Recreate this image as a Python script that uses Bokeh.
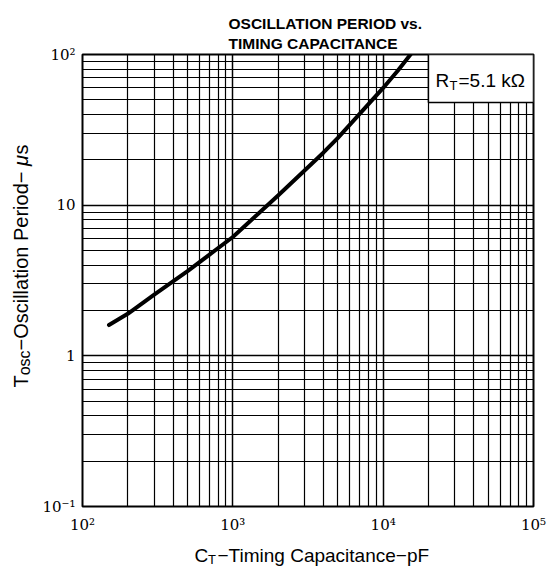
import math
from bokeh.plotting import figure
from bokeh.models import Label, BoxAnnotation, FixedTicker, Range1d
from bokeh.layouts import row, column
from bokeh.embed import file_html
from bokeh.resources import INLINE

# ---- data ----
cap_pf = [150, 200, 300, 400, 500, 700, 1000, 1500, 2000, 3000, 4000, 5000, 7000, 10000, 12500, 15200]
period_us = [1.6, 1.9, 2.55, 3.12, 3.65, 4.7, 6.15, 8.9, 11.6, 17, 22.3, 28, 40.5, 60, 78, 100]

x_major = [1e2, 1e3, 1e4, 1e5]
x_minor = [m * d for d in (1e2, 1e3, 1e4) for m in range(2, 10)]
y_major = [1e-1, 1, 10, 1e2]
y_minor = [m * d for d in (1e-1, 1, 10) for m in range(2, 10)]
x_tick_labels = {100: "10²", 1000: "10³", 10000: "10⁴", 100000: "10⁵"}
y_tick_labels = {0.1: "10⁻¹", 1: "1", 10: "10", 100: "10²"}

SANS = "Liberation Sans"
SERIF = "DejaVu Serif"

LEFT_W = 36          # width of the strip holding the y-axis title
BOTTOM_H = 36        # height of the strip holding the x-axis title

p = figure(width=513, height=536, x_axis_type="log", y_axis_type="log",
           x_range=Range1d(1e2, 1e5), y_range=Range1d(1e-1, 1e2),
           output_backend="svg", toolbar_location=None,
           min_border_left=46, min_border_right=16, min_border_top=54, min_border_bottom=30)
p.background_fill_color = "white"
p.border_fill_color = "white"
p.outline_line_color = "black"
p.outline_line_width = 2

for ax, maj, mnr, labels in ((p.xaxis, x_major, x_minor, x_tick_labels),
                             (p.yaxis, y_major, y_minor, y_tick_labels)):
    ax.ticker = FixedTicker(ticks=maj, minor_ticks=mnr)
    ax.major_label_overrides = labels
    ax.axis_line_color = None
    ax.major_tick_line_color = None
    ax.minor_tick_line_color = None
    ax.major_tick_out = 0
    ax.minor_tick_out = 0
    ax.major_label_text_font = SERIF
    ax.major_label_text_font_size = "15px"
    ax.major_label_text_color = "black"
p.xaxis.major_label_standoff = 9
p.yaxis.major_label_standoff = 7

for g in (p.xgrid, p.ygrid):
    g.grid_line_color = "black"
    g.grid_line_width = 1.5
    g.grid_line_alpha = 1
    g.minor_grid_line_color = "black"
    g.minor_grid_line_width = 1.2
    g.minor_grid_line_alpha = 1

p.line(cap_pf, period_us, line_color="black", line_width=4, line_cap="round", line_join="round")

# R_T box
p.add_layout(BoxAnnotation(left=2e4, right=1e5, bottom=48, top=100,
                           fill_color="white", fill_alpha=1,
                           line_color="black", line_width=1.5, line_alpha=1))


def make_label(x, y, text, size, angle=0.0, style="normal", units="canvas"):
    return Label(x=x, y=y, x_units=units, y_units=units, text=text,
                 text_font=SANS, text_font_size=size, text_font_style=style,
                 text_color="black", angle=angle,
                 text_align="left", text_baseline="alphabetic")


# R_T = 5.1 kΩ (inside the frame, frame-relative screen units)
p.add_layout(make_label(353, 426, "R", "19px", units="screen"))
p.add_layout(make_label(367, 421, "T", "13px", units="screen"))
p.add_layout(make_label(376, 426, "=5.1 kΩ", "19px", units="screen"))

# title (in the top panel of the main figure, canvas units)
p.add_layout(make_label(228 - LEFT_W, 23, "OSCILLATION PERIOD vs.", "15.5px", style="bold"), "above")
p.add_layout(make_label(228 - LEFT_W, 43, "TIMING CAPACITANCE", "15.5px", style="bold"), "above")


def text_strip(width, height):
    f = figure(width=width, height=height, x_range=Range1d(0, 1), y_range=Range1d(0, 1),
               output_backend="svg", toolbar_location=None,
               x_axis_location=None, y_axis_location=None, min_border=0)
    f.grid.visible = False
    f.outline_line_color = None
    f.background_fill_color = "white"
    f.border_fill_color = "white"
    return f


# x-axis title strip
xfig = text_strip(513, BOTTOM_H)
xfig.add_layout(make_label(194 - LEFT_W, 19, "C", "19px"))
xfig.add_layout(make_label(207.5 - LEFT_W, 22.5, "T", "13px"))
xfig.add_layout(make_label(217 - LEFT_W, 19, "−Timing Capacitance−pF", "19px"))

# y-axis title strip (reads upward)
a = math.pi / 2
yfig = text_strip(LEFT_W, 536 + BOTTOM_H)
yfig.add_layout(make_label(20.5, 387, "T", "20px", angle=a))
yfig.add_layout(make_label(24, 374.8, "osc", "16px", angle=a))
yfig.add_layout(make_label(20.5, 350, "−Oscillation  Period−", "20px", angle=a))
yfig.add_layout(make_label(20.5, 165.5, "μ", "20px", angle=a, style="italic"))
yfig.add_layout(make_label(20.5, 154, "s", "20px", angle=a))

layout = row(yfig, column(p, xfig))
open("out.html", "w").write(file_html(layout, INLINE))
